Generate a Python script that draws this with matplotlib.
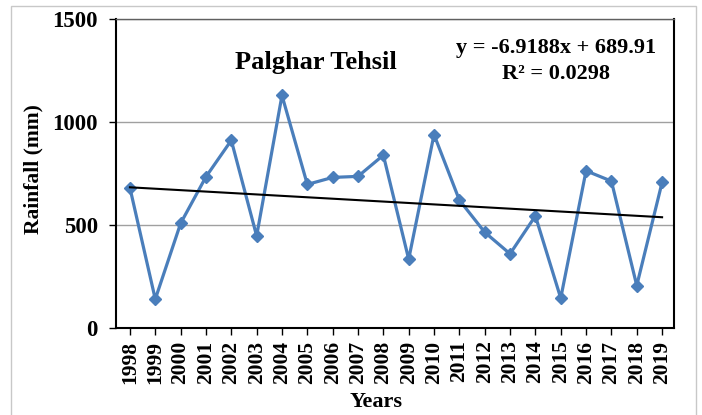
import matplotlib
matplotlib.use("Agg")
import matplotlib.pyplot as plt
from matplotlib.patches import Rectangle

years = [str(y) for y in range(1998, 2020)]
rainfall = [680, 140, 508, 734, 911, 447, 1129, 697, 731, 736, 839, 334,
            939, 621, 465, 360, 544, 145, 763, 713, 206, 707]
trend_slope = -6.9188
trend_intercept = 689.91
r_squared = 0.0298
y_ticks = [0, 500, 1000, 1500]

plt.rcParams['font.family'] = ['Liberation Serif', 'DejaVu Serif']

fig = plt.figure(figsize=(7.02, 4.15), dpi=100)
fig.patches.append(Rectangle((11/702, 1 - 420/415), (696-11)/702, (420-6)/415,
                             transform=fig.transFigure, fill=False,
                             edgecolor='#c8c8c8', linewidth=1.0))
ax = fig.add_axes([116/702, 1 - 328/415, (674-116)/702, (328-19)/415])

x = list(range(len(years)))
ax.plot(x, rainfall, color='#4A7EBB', linewidth=2.3, marker='D',
        markersize=6, markerfacecolor='#4A7EBB', markeredgecolor='#4A7EBB', zorder=3)
trend = [trend_slope * (i + 1) + trend_intercept for i in x]
ax.plot(x, trend, color='black', linewidth=1.5, zorder=4)

ax.set_xlim(-0.55, 21.47)
ax.set_ylim(0, 1500)
ax.set_yticks(y_ticks)
ax.set_yticklabels([str(v) for v in y_ticks], fontsize=16.5, fontweight='bold')
ax.set_xticks(x)
ax.set_xticklabels(years, rotation=90, fontsize=15.5, fontweight='bold')
ax.tick_params(axis='both', direction='out', length=5, width=1, color='black')
ax.tick_params(axis='y', pad=8)
ax.tick_params(axis='x', pad=4)
ax.grid(axis='y', color='#a0a0a0', linewidth=1.0)
ax.set_axisbelow(True)
for side in ['left', 'bottom', 'right']:
    ax.spines[side].set_color('black')
    ax.spines[side].set_linewidth(1.5)
ax.spines['top'].set_color('#606060')
ax.spines['top'].set_linewidth(1.0)

ax.set_xlabel('Years', fontsize=16, fontweight='bold')
ax.set_ylabel('Rainfall (mm)', fontsize=15.5, fontweight='bold')
ax.xaxis.set_label_coords(376/702, 1 - 402/415, transform=fig.transFigure)
ax.xaxis.label.set_va('center')
ax.yaxis.set_label_coords(33/702, 1 - 169/415, transform=fig.transFigure)
ax.yaxis.label.set_va('center')

fig.text(316/702, 1 - 62/415, 'Palghar Tehsil', fontsize=19, fontweight='bold',
         ha='center', va='center')
fig.text(556/702, 1 - 48/415, f'y = {trend_slope}x + {trend_intercept}', fontsize=16,
         fontweight='bold', ha='center', va='center')
fig.text(556/702, 1 - 74/415, f'R² = {r_squared}', fontsize=16,
         fontweight='bold', ha='center', va='center')

fig.savefig('out.png', dpi=100)
